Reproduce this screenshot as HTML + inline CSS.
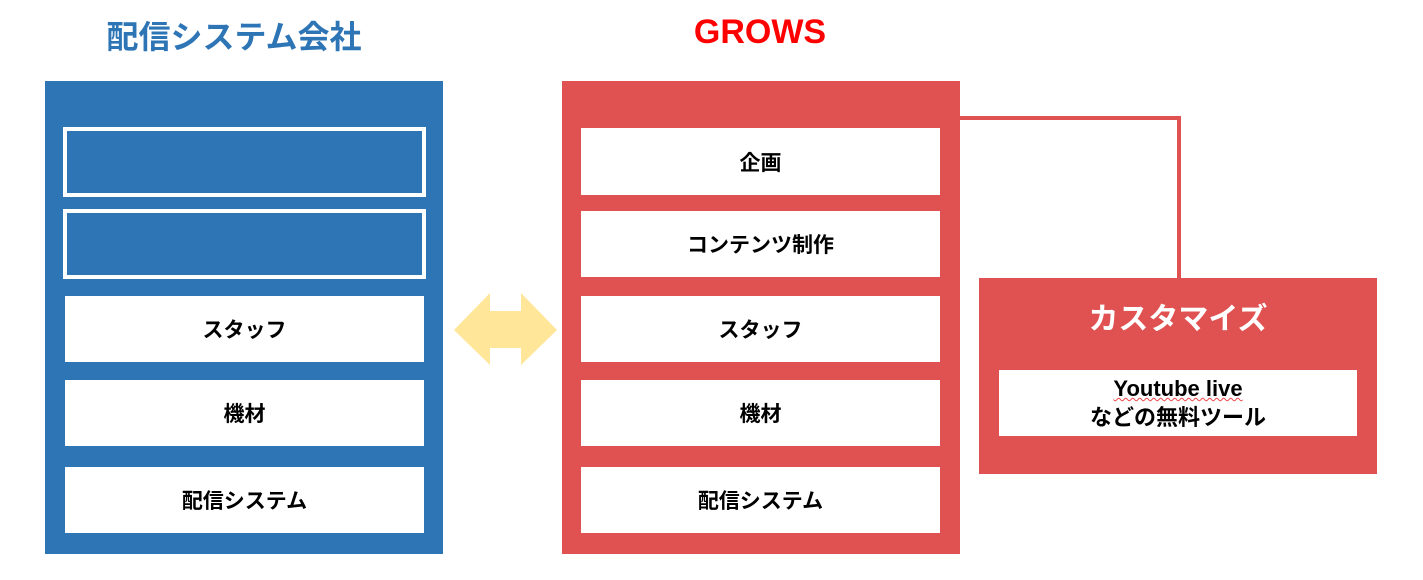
<!DOCTYPE html>
<html><head><meta charset="utf-8"><style>
body{margin:0;width:1423px;height:580px;background:#fff;position:relative;overflow:hidden;font-family:"Liberation Sans","Noto Sans CJK JP",sans-serif;}
.a{position:absolute;box-sizing:border-box;}
.w{background:#fff;display:flex;align-items:center;justify-content:center;font-weight:bold;font-size:21px;color:#000;}
.blue{background:#2E75B6;}
.red{background:#E05151;}
</style></head><body>
<div class="a" style="left:35px;top:13px;width:398px;text-align:center;font-size:32px;font-weight:bold;color:#2E75B6;line-height:48px;">配信システム会社</div>
<div class="a" style="left:600px;top:9px;width:320px;text-align:center;font-size:34px;font-weight:bold;color:#FF0000;line-height:46px;">GROWS</div>

<div class="a blue" style="left:45px;top:81px;width:398px;height:473px;"></div>
<div class="a" style="left:63px;top:127px;width:363px;height:70px;border:4px solid #fff;"></div>
<div class="a" style="left:63px;top:209px;width:363px;height:70px;border:4px solid #fff;"></div>
<div class="a w" style="left:65px;top:296px;width:359px;height:66px;">スタッフ</div>
<div class="a w" style="left:65px;top:380px;width:359px;height:66px;">機材</div>
<div class="a w" style="left:65px;top:467px;width:359px;height:66px;">配信システム</div>

<svg class="a" style="left:0;top:0" width="1423" height="580">
<polygon points="454,330 490,293 490,311 521,311 521,293 557,330 521,365 521,348 490,348 490,365" fill="#FFE699"/>
<polyline points="960,118 1179,118 1179,278" fill="none" stroke="#E05151" stroke-width="4"/>
</svg>

<div class="a red" style="left:562px;top:81px;width:398px;height:473px;"></div>
<div class="a w" style="left:581px;top:128px;width:359px;height:67px;">企画</div>
<div class="a w" style="left:581px;top:211px;width:359px;height:66px;">コンテンツ制作</div>
<div class="a w" style="left:581px;top:296px;width:359px;height:66px;">スタッフ</div>
<div class="a w" style="left:581px;top:380px;width:359px;height:66px;">機材</div>
<div class="a w" style="left:581px;top:467px;width:359px;height:66px;">配信システム</div>

<div class="a red" style="left:979px;top:278px;width:398px;height:196px;"></div>
<div class="a" style="left:979px;top:298px;width:398px;text-align:center;color:#fff;font-weight:bold;font-size:30px;line-height:44px;">カスタマイズ</div>
<div class="a w" style="left:999px;top:370px;width:358px;height:66px;flex-direction:column;line-height:29px;font-size:22px;"><span style="text-decoration:underline wavy #e44;text-decoration-thickness:1px;">Youtube live</span><span>などの無料ツール</span></div>
</body></html>
